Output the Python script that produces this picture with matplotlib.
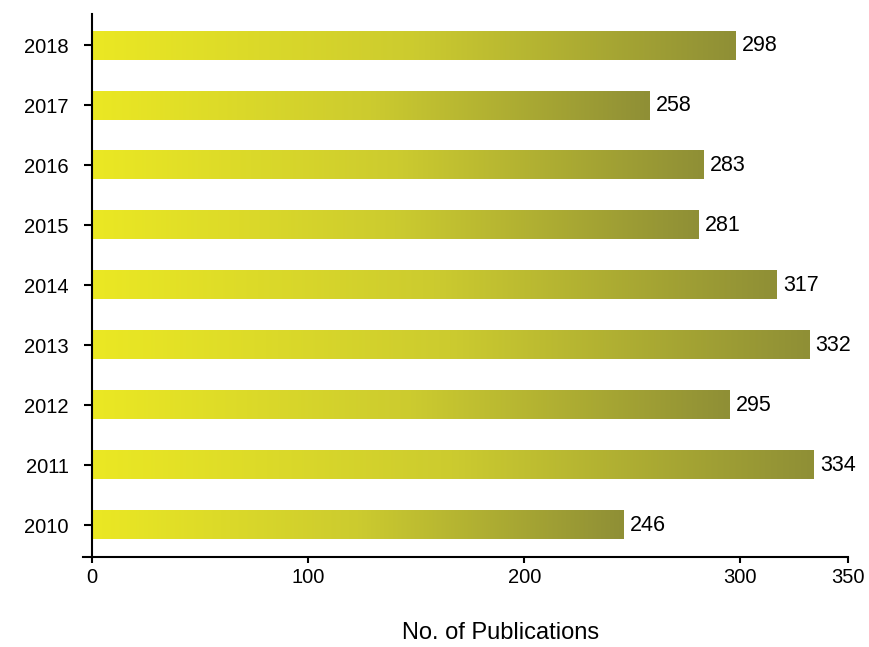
import numpy as np
import matplotlib
matplotlib.use('Agg')
import matplotlib.pyplot as plt
from matplotlib.colors import LinearSegmentedColormap
from matplotlib.lines import Line2D

plt.rcParams['font.family'] = ['Liberation Sans', 'DejaVu Sans']

# Dati: pubblicazioni per anno
years = ['2010', '2011', '2012', '2013', '2014', '2015', '2016', '2017', '2018']
publications = [246, 334, 295, 332, 317, 281, 283, 258, 298]
x_ticks = [0, 100, 200, 300, 350]

# Gradiente giallo -> oliva per ogni barra
cmap = LinearSegmentedColormap.from_list('yo', ['#ebe823', '#cccb2f', '#8f8f36'])
grad = np.linspace(0, 1, 256).reshape(1, -1)

fig = plt.figure(figsize=(8.7, 6.47), dpi=100)
ax = fig.add_axes([0.106, 0.139, 0.869, 0.839])

bar_h = 0.47
for i, v in enumerate(publications):
    ax.imshow(grad, cmap=cmap, aspect='auto', interpolation='bicubic',
              extent=[0, v, i - bar_h / 2, i + bar_h / 2], zorder=2)
    ax.text(v + 2.8, i, str(v), va='center', ha='left', fontsize=15.5)

ax.set_xlim(0, 350)
ax.set_ylim(-0.53, 8.52)
ax.set_yticks(range(len(years)))
ax.set_yticklabels(years)
ax.set_xticks(x_ticks)

for s in ['top', 'right']:
    ax.spines[s].set_visible(False)
for s in ['left', 'bottom']:
    ax.spines[s].set_linewidth(1.5)

ax.tick_params(axis='y', length=6, width=1.5, pad=11, labelsize=14.5)
ax.tick_params(axis='x', length=4, width=1.5, pad=4, labelsize=14.5)

# piccolo prolungamento dell'asse x a sinistra
ax.add_line(Line2D([-0.012, 0], [0, 0], transform=ax.transAxes, color='black',
                   linewidth=1.5, clip_on=False))

fig.text(0.575, 0.022, 'No. of Publications', ha='center', va='center', fontsize=17)

fig.savefig('out.png', dpi=100)
